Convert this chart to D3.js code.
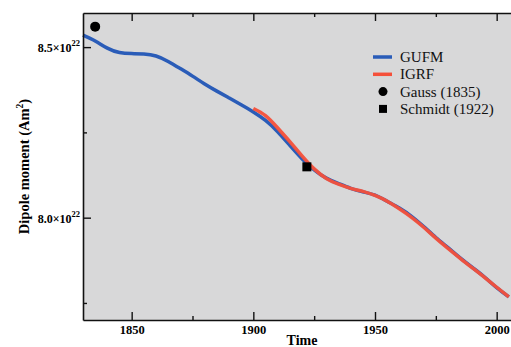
<!DOCTYPE html>
<html>
<head>
<meta charset="utf-8">
<script src="https://cdn.jsdelivr.net/npm/d3@7"></script>
<style>
  html, body { margin: 0; padding: 0; background: #fff; }
  svg { display: block; font-family: "Liberation Serif", "DejaVu Serif", serif; }
</style>
</head>
<body>
<svg id="chart" width="511" height="347"></svg>
<script>
// values in units of 1e22 A m^2
const gufmYears = [1830, 1835, 1840, 1845, 1850, 1855, 1860, 1865, 1870, 1875, 1880, 1885, 1890, 1895,
  1900, 1905, 1910, 1915, 1920, 1925, 1930, 1935, 1940, 1945, 1950, 1955, 1960, 1965, 1970, 1975,
  1980, 1985, 1990, 1995, 2000, 2005];
const gufmValues = [8.535, 8.518, 8.497, 8.484, 8.481, 8.480, 8.474, 8.458, 8.437, 8.415, 8.392, 8.371, 8.351, 8.331,
  8.310, 8.285, 8.252, 8.212, 8.173, 8.140, 8.116, 8.100, 8.086, 8.076, 8.066, 8.048, 8.028, 8.004, 7.974, 7.942,
  7.912, 7.882, 7.854, 7.826, 7.795, 7.768];
const igrfYears = [1900, 1905, 1910, 1915, 1920, 1925, 1930, 1935, 1940, 1945, 1950, 1955, 1960, 1965,
  1970, 1975, 1980, 1985, 1990, 1995, 2000, 2005];
const igrfValues = [8.320, 8.299, 8.263, 8.223, 8.181, 8.143, 8.115, 8.098, 8.086, 8.077, 8.065, 8.048, 8.026, 8.001,
  7.972, 7.940, 7.910, 7.881, 7.853, 7.825, 7.796, 7.768];
const gauss = { year: 1835, value: 8.56 };
const schmidt = { year: 1922, value: 8.149 };
const xMajorTicks = [1850, 1900, 1950, 2000];
const xMinorTicks = [1875, 1925, 1975];
const yMajorTicks = [8.0, 8.5];
const yMinorTicks = [7.75, 8.25];
const legendLabels = ['GUFM', 'IGRF', 'Gauss (1835)', 'Schmidt (1922)'];

const svg = d3.select('#chart');

/**
 * SIZE DEFINITIONS
 */
const plotLeft = 83, plotTop = 13, plotBottom = 320, plotRight = 521;
const blue = '#2a5cb8';
const red = '#f5503a';

/**
 * SCALES
 */
const x = d3.scaleLinear().domain([1830, 2010]).range([plotLeft, plotRight]);
const y = d3.scaleLinear().domain([7.7, 8.6]).range([plotBottom, plotTop]);

svg.append('rect')
  .attr('x', plotLeft).attr('y', plotTop)
  .attr('width', plotRight - plotLeft).attr('height', plotBottom - plotTop)
  .attr('fill', '#d8d8d9');

/**
 * LINES
 */
const line = d3.line()
  .curve(d3.curveNatural)
  .x((d) => x(d[0]))
  .y((d) => y(d[1]));

svg.append('path')
  .attr('d', line(d3.zip(gufmYears, gufmValues)))
  .attr('fill', 'none')
  .attr('stroke', blue)
  .attr('stroke-width', 3.5);

svg.append('path')
  .attr('d', line(d3.zip(igrfYears, igrfValues)))
  .attr('fill', 'none')
  .attr('stroke', red)
  .attr('stroke-width', 3.5)
  .attr('stroke-opacity', 0.95);

svg.append('circle')
  .attr('cx', x(gauss.year)).attr('cy', y(gauss.value))
  .attr('r', 5).attr('fill', '#000');

svg.append('rect')
  .attr('x', x(schmidt.year) - 4.5).attr('y', y(schmidt.value) - 4.5)
  .attr('width', 9).attr('height', 9).attr('fill', '#000');

/**
 * AXES (ticks pointing inward)
 */
const gxBottom = svg.append('g')
  .attr('transform', `translate(0,${plotBottom})`)
  .call(d3.axisBottom(x).tickValues(xMajorTicks).tickSizeInner(-8).tickSizeOuter(0).tickPadding(5).tickFormat(d3.format('d')));
gxBottom.selectAll('.tick text')
  .attr('font-family', '"Liberation Serif", serif')
  .attr('font-size', 12.5).attr('font-weight', 'bold').attr('fill', '#000');

svg.append('g')
  .attr('transform', `translate(0,${plotBottom})`)
  .call(d3.axisBottom(x).tickValues(xMinorTicks).tickSizeInner(-4).tickSizeOuter(0).tickFormat(''))
  .select('.domain').remove();

svg.append('g')
  .attr('transform', `translate(0,${plotTop})`)
  .call(d3.axisTop(x).tickValues(xMajorTicks).tickSizeInner(-8).tickSizeOuter(0).tickFormat(''));
svg.append('g')
  .attr('transform', `translate(0,${plotTop})`)
  .call(d3.axisTop(x).tickValues(xMinorTicks).tickSizeInner(-4).tickSizeOuter(0).tickFormat(''))
  .select('.domain').remove();

svg.append('g')
  .attr('transform', `translate(${plotLeft},0)`)
  .call(d3.axisLeft(y).tickValues(yMajorTicks).tickSizeInner(-8).tickSizeOuter(0).tickFormat(''));
svg.append('g')
  .attr('transform', `translate(${plotLeft},0)`)
  .call(d3.axisLeft(y).tickValues(yMinorTicks).tickSizeInner(-4).tickSizeOuter(0).tickFormat(''))
  .select('.domain').remove();

svg.selectAll('.domain').attr('stroke', '#111').attr('stroke-width', 1.6);
svg.selectAll('.tick line').attr('stroke', '#111').attr('stroke-width', 1.4);

// y tick labels with superscript exponent
yMajorTicks.forEach((v) => {
  const t = svg.append('text')
    .attr('x', plotLeft - 3)
    .attr('y', y(v) + 5)
    .attr('text-anchor', 'end')
    .attr('font-size', 12)
    .attr('font-weight', 'bold')
    .attr('fill', '#000');
  t.append('tspan').text(d3.format('.1f')(v) + '\u00d710');
  t.append('tspan').attr('dy', -6).attr('font-size', 8.5).text('22');
});

/**
 * AXIS TITLES
 */
svg.append('text')
  .attr('x', (plotLeft + plotRight) / 2)
  .attr('y', 345)
  .attr('text-anchor', 'middle')
  .attr('font-size', 14)
  .attr('font-weight', 'bold')
  .text('Time');

const yTitle = svg.append('text')
  .attr('transform', `translate(29,${(plotTop + plotBottom) / 2}) rotate(-90)`)
  .attr('text-anchor', 'middle')
  .attr('font-size', 14.5)
  .attr('font-weight', 'bold');
yTitle.append('tspan').text('Dipole moment (Am');
yTitle.append('tspan').attr('dy', -6).attr('font-size', 9.5).text('2');
yTitle.append('tspan').attr('dy', 6).text(')');

/**
 * LEGEND
 */
const legend = svg.append('g').attr('transform', 'translate(373,57)');
const rowH = 17.3;
legendLabels.forEach((label, i) => {
  const g = legend.append('g').attr('transform', `translate(0,${i * rowH})`);
  if (i === 0 || i === 1) {
    g.append('line').attr('x1', 0).attr('x2', 19).attr('y1', 0).attr('y2', 0)
      .attr('stroke', i === 0 ? blue : red).attr('stroke-width', 3.5);
  } else if (i === 2) {
    g.append('circle').attr('cx', 10).attr('cy', 0).attr('r', 4.5).attr('fill', '#000');
  } else {
    g.append('rect').attr('x', 6).attr('y', -4).attr('width', 8).attr('height', 8).attr('fill', '#000');
  }
  g.append('text')
    .attr('x', 27)
    .attr('y', 5)
    .attr('font-size', 15)
    .attr('fill', '#111')
    .text(label);
});
</script>
</body>
</html>
